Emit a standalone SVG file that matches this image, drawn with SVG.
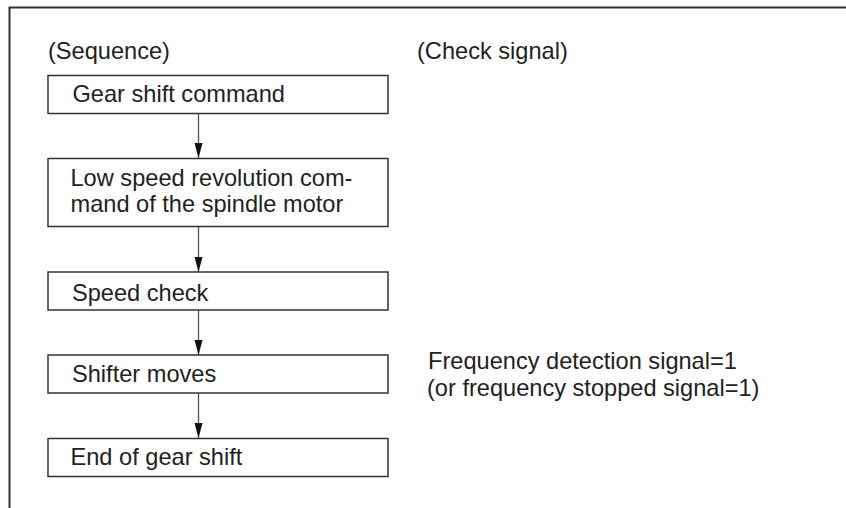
<svg xmlns="http://www.w3.org/2000/svg" width="846" height="508" viewBox="0 0 846 508">
<style>
text{font-family:"Liberation Sans",Arial,sans-serif;font-size:23.6px;fill:#222}
.box{fill:#fff;stroke:#333;stroke-width:1.5}
.frame{fill:none;stroke:#333;stroke-width:2}
.conn{stroke:#555;stroke-width:1.3;fill:none}
.head{fill:#111}
</style>
<rect width="846" height="508" fill="#fff"/>
<path class="frame" d="M9.5,508 V7.5 H846"/>
<text x="48" y="59">(Sequence)</text>
<text x="417" y="59">(Check signal)</text>
<g id="conns">
<line class="conn" x1="198.5" y1="113" x2="198.5" y2="158"/>
<path class="head" d="M194.5,143 L202.5,143 L198.5,158 Z"/>
<line class="conn" x1="198.5" y1="227" x2="198.5" y2="272"/>
<path class="head" d="M194.5,257 L202.5,257 L198.5,272 Z"/>
<line class="conn" x1="198.5" y1="310" x2="198.5" y2="355"/>
<path class="head" d="M194.5,340 L202.5,340 L198.5,355 Z"/>
<line class="conn" x1="198.5" y1="393" x2="198.5" y2="438"/>
<path class="head" d="M194.5,423 L202.5,423 L198.5,438 Z"/>
</g>
<g id="n1"><rect class="box" x="48" y="75.5" width="340" height="38"/><text x="72.5" y="102">Gear shift command</text></g>
<g id="n2"><rect class="box" x="48" y="158.5" width="340" height="68"/><text x="70.5" y="186">Low speed revolution com-</text><text x="70.5" y="212">mand of the spindle motor</text></g>
<g id="n3"><rect class="box" x="48" y="272" width="340" height="38"/><text x="72" y="301">Speed check</text></g>
<g id="n4"><rect class="box" x="48" y="355" width="340" height="38"/><text x="72" y="382">Shifter moves</text></g>
<g id="n5"><rect class="box" x="48" y="438.5" width="340" height="38"/><text x="70.5" y="465">End of gear shift</text></g>
<g id="signal"><text x="428" y="369">Frequency detection signal=1</text><text x="427" y="396">(or frequency stopped signal=1)</text></g>
</svg>
